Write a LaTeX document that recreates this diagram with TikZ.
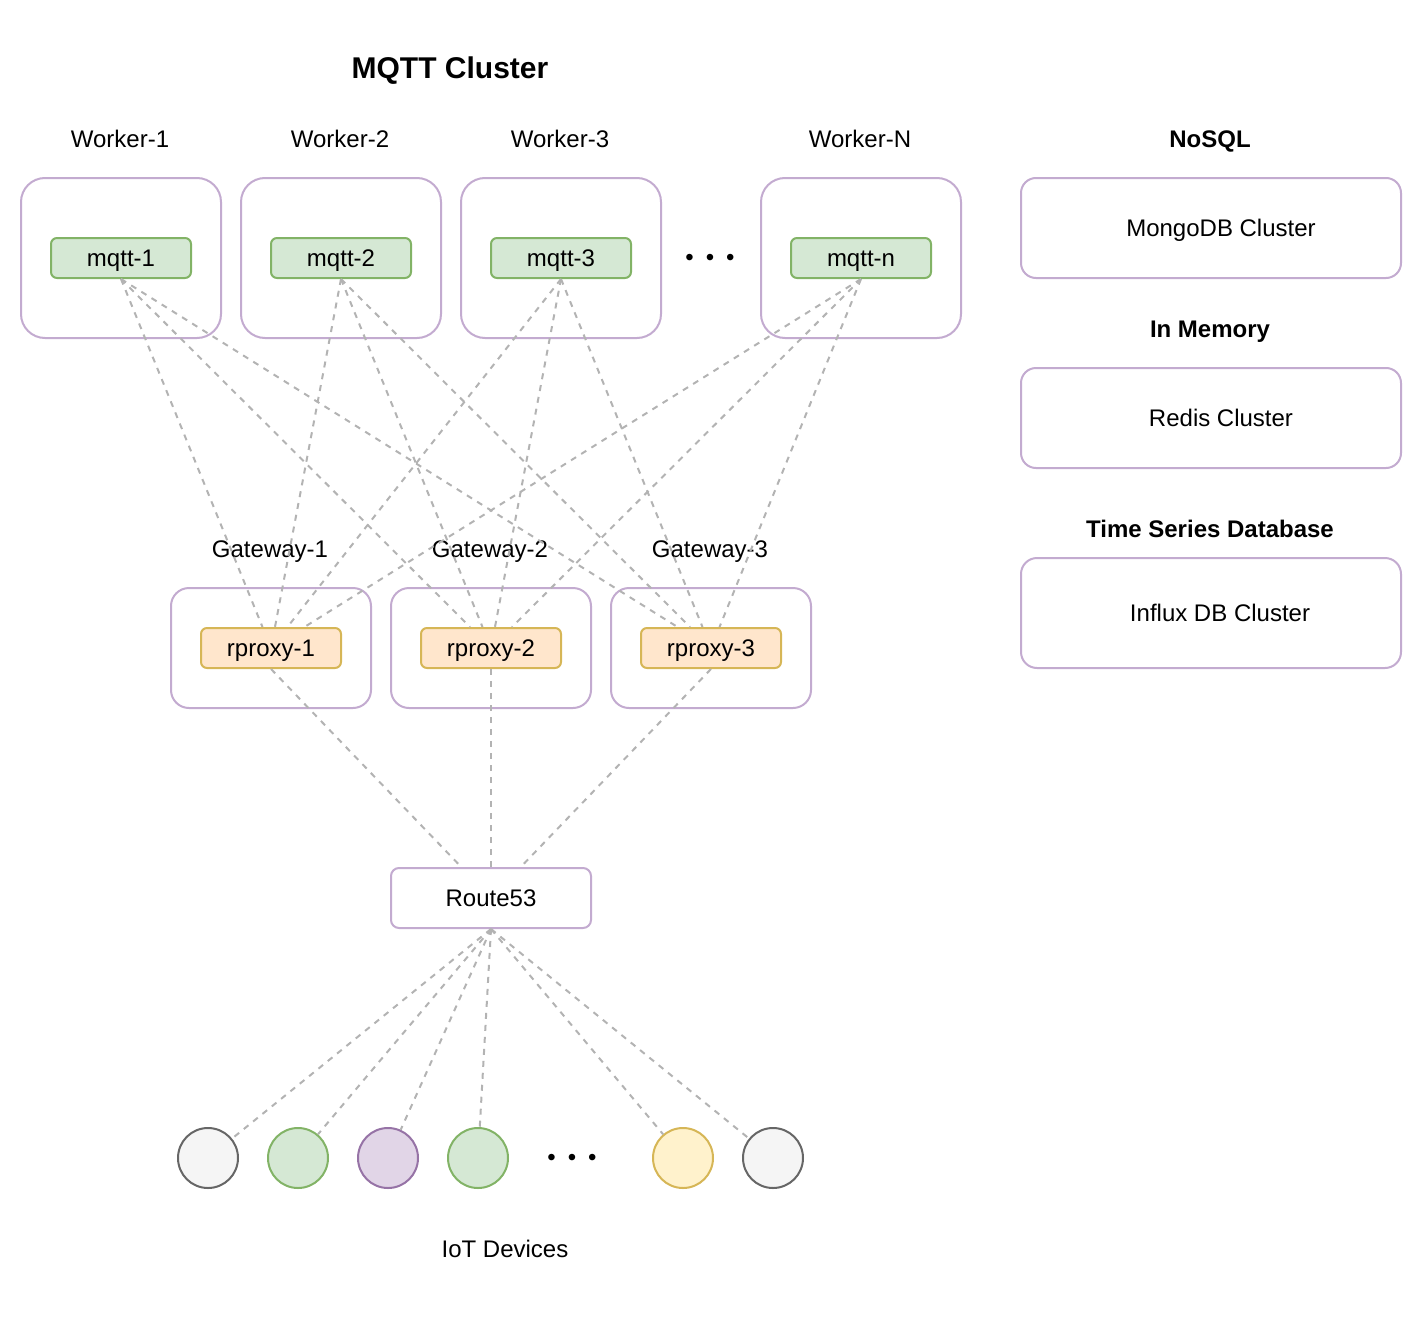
\documentclass[tikz,border=0pt]{standalone}
\usepackage{fontspec}
\setmainfont{Liberation Sans}
\definecolor{boxpurple}{HTML}{C3ABD0}
\definecolor{linkgray}{HTML}{B3B3B3}
\definecolor{mqttfill}{HTML}{D5E8D4}
\definecolor{mqttline}{HTML}{82B366}
\definecolor{proxyfill}{HTML}{FFE6CC}
\definecolor{proxyline}{HTML}{D6B656}
\definecolor{greyfill}{HTML}{F5F5F5}
\definecolor{greyline}{HTML}{666666}
\definecolor{violetfill}{HTML}{E1D5E7}
\definecolor{violetline}{HTML}{9673A6}
\definecolor{yellowfill}{HTML}{FFF2CC}
\tikzset{
  every node/.style={font=\fontsize{24}{28}\selectfont, inner sep=0pt, text height=17pt, text depth=0pt},
  hostbox/.style={draw=boxpurple, line width=2pt, rounded corners=#1},
  workerbox/.style={hostbox=24pt, minimum width=200pt, minimum height=160pt},
  gatewaybox/.style={hostbox=18pt, minimum width=200pt, minimum height=120pt},
  storebox/.style={hostbox=15pt, minimum width=380pt, minimum height=100pt},
  mqttbox/.style={draw=mqttline, fill=mqttfill, line width=2pt, rounded corners=6pt, minimum width=140pt, minimum height=40pt},
  proxybox/.style={draw=proxyline, fill=proxyfill, line width=2pt, rounded corners=6pt, minimum width=140pt, minimum height=40pt},
  device/.style={circle, line width=2pt, minimum size=60pt},
  headline/.style={font=\fontsize{24}{28}\selectfont\bfseries},
  link/.style={draw=linkgray, line width=2pt, dash pattern=on 6pt off 6pt}
}
\begin{document}
\begin{tikzpicture}[x=1pt,y=-1pt]
  \useasboundingbox (0,0) rectangle (1424,1322);
  \node[font=\fontsize{30}{34}\selectfont\bfseries, text height=21.5pt] (title) at (450,68) {MQTT Cluster};
  \node (w1label) at (120,139) {Worker-1};
  \node (w2label) at (340,139) {Worker-2};
  \node (w3label) at (560,139) {Worker-3};
  \node (wnlabel) at (860,139) {Worker-N};
  \node[workerbox] (w1) at (121,258) {};
  \node[workerbox] (w2) at (341,258) {};
  \node[workerbox] (w3) at (561,258) {};
  \node[workerbox] (wn) at (861,258) {};
  \node[mqttbox] (m1) at (121,258) {mqtt-1};
  \node[mqttbox] (m2) at (341,258) {mqtt-2};
  \node[mqttbox] (m3) at (561,258) {mqtt-3};
  \node[mqttbox] (mn) at (861,258) {mqtt-n};
  \node (wdots) at (710,257) {\textbullet\hspace{12pt}\textbullet\hspace{12pt}\textbullet};
  \node[headline] (nosql) at (1210,139) {NoSQL};
  \node[storebox] (mongo) at (1211,228) {\hspace{20pt}MongoDB Cluster};
  \node[headline] (inmem) at (1210,329) {In Memory};
  \node[storebox] (redis) at (1211,418) {\hspace{20pt}Redis Cluster};
  \node[headline] (tsdb) at (1210,529) {Time Series Database};
  \node[storebox, minimum height=110pt, rounded corners=16pt] (influx) at (1211,613) {\hspace{18pt}Influx DB Cluster};
  \node (g1label) at (270,549) {Gateway-1};
  \node (g2label) at (490,549) {Gateway-2};
  \node (g3label) at (710,549) {Gateway-3};
  \node[gatewaybox] (g1) at (271,648) {};
  \node[gatewaybox] (g2) at (491,648) {};
  \node[gatewaybox] (g3) at (711,648) {};
  \node[proxybox] (r1) at (271,648) {rproxy-1};
  \node[proxybox] (r2) at (491,648) {rproxy-2};
  \node[proxybox] (r3) at (711,648) {rproxy-3};
  \node[hostbox=8pt, minimum width=200pt, minimum height=60pt] (route) at (491,898) {Route53};
  \node[device, draw=greyline, fill=greyfill] (d1) at (208,1158) {};
  \node[device, draw=mqttline, fill=mqttfill] (d2) at (298,1158) {};
  \node[device, draw=violetline, fill=violetfill] (d3) at (388,1158) {};
  \node[device, draw=mqttline, fill=mqttfill] (d4) at (478,1158) {};
  \node (ddots) at (572,1157) {\textbullet\hspace{12pt}\textbullet\hspace{12pt}\textbullet};
  \node[device, draw=proxyline, fill=yellowfill] (d5) at (683,1158) {};
  \node[device, draw=greyline, fill=greyfill] (d6) at (773,1158) {};
  \node (iot) at (505,1249) {IoT Devices};
  \foreach \m in {m1,m2,m3,mn}{
    \foreach \r in {r1,r2,r3}{
      \draw[link] (\m.south) -- (\r);
    }
  }
  \foreach \r in {r1,r2,r3}{
    \draw[link] (\r.south) -- (route);
  }
  \foreach \d in {d1,d2,d3,d4,d5,d6}{
    \draw[link] (route.south) -- (\d);
  }
\end{tikzpicture}
\end{document}
